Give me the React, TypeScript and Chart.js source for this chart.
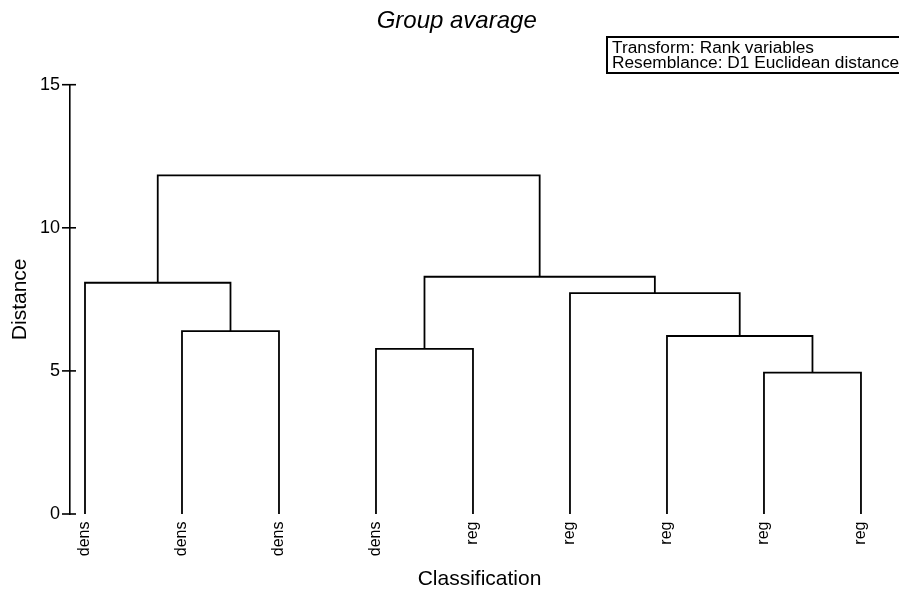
import React, { useEffect, useRef } from 'react';
import { Chart, registerables } from 'chart.js';

Chart.register(...registerables);

// ---- data ----
const leafLabels = ['dens', 'dens', 'dens', 'dens', 'reg', 'reg', 'reg', 'reg', 'reg'];
// merges: node index < 9 is a leaf, >= 9 refers to an earlier merge (9 + k)
const mergeLeft = [1, 0, 3, 7, 6, 5, 11, 10];
const mergeRight = [2, 9, 4, 8, 12, 13, 14, 15];
const mergeHeights = [6.39, 8.08, 5.77, 4.94, 6.22, 7.72, 8.29, 11.83];
const yTicks = [0, 5, 10, 15];
const chartTitle = 'Group avarage';
const noteLines = ['Transform: Rank variables', 'Resemblance: D1 Euclidean distance'];
const xTitle = 'Classification';
const yTitle = 'Distance';

const FONT = "'Liberation Sans', Arial, Helvetica, sans-serif";

function buildDatasets() {
  const n = leafLabels.length;
  const pos: number[] = leafLabels.map((_, i) => i);
  const ht: number[] = leafLabels.map(() => 0);
  const sets: any[] = [];
  mergeHeights.forEach((h, k) => {
    const l = mergeLeft[k];
    const r = mergeRight[k];
    pos[n + k] = (pos[l] + pos[r]) / 2;
    ht[n + k] = h;
    sets.push({
      data: [
        { x: pos[l], y: ht[l] },
        { x: pos[l], y: h },
        { x: pos[r], y: h },
        { x: pos[r], y: ht[r] },
      ],
      showLine: true,
      borderColor: '#000',
      borderWidth: 1.8,
      pointRadius: 0,
      pointHoverRadius: 0,
      tension: 0,
      fill: false,
      borderJoinStyle: 'miter',
      borderCapStyle: 'butt',
    });
  });
  return sets;
}

const decorPlugin = {
  id: 'decor',
  afterDraw(chart: any) {
    const { ctx, chartArea } = chart;
    const xs = chart.scales.x;
    const ys = chart.scales.y;
    ctx.save();
    ctx.strokeStyle = '#000';
    ctx.fillStyle = '#000';
    // y tick marks crossing the axis
    ctx.lineWidth = 1.6;
    yTicks.forEach((v) => {
      const py = ys.getPixelForValue(v);
      ctx.beginPath();
      ctx.moveTo(chartArea.left - 8, py);
      ctx.lineTo(chartArea.left + 6, py);
      ctx.stroke();
    });
    // leaf labels, rotated, reading bottom to top
    ctx.font = `16px ${FONT}`;
    ctx.textAlign = 'right';
    ctx.textBaseline = 'middle';
    const y0 = ys.getPixelForValue(0);
    leafLabels.forEach((lab, i) => {
      const px = xs.getPixelForValue(i);
      ctx.save();
      ctx.translate(px, y0 + 7.5);
      ctx.rotate(-Math.PI / 2);
      ctx.fillText(lab, 0, 0);
      ctx.restore();
    });
    // title
    ctx.font = `italic 24px ${FONT}`;
    ctx.textAlign = 'center';
    ctx.textBaseline = 'alphabetic';
    ctx.fillText(chartTitle, 456.7, 28);
    // note box
    ctx.lineWidth = 2;
    ctx.strokeRect(607, 37, 300, 36);
    ctx.font = `17.3px ${FONT}`;
    ctx.textAlign = 'left';
    ctx.fillText(noteLines[0], 612, 52.5);
    ctx.fillText(noteLines[1], 612, 67.5);
    ctx.restore();
  },
};

export default function App() {
  const ref = useRef<HTMLCanvasElement | null>(null);
  useEffect(() => {
    document.body.style.margin = '0';
    const canvas = ref.current;
    if (!canvas) return;
    const chart = new Chart(canvas, {
      type: 'scatter',
      data: { datasets: buildDatasets() },
      options: {
        animation: false,
        responsive: true,
        maintainAspectRatio: false,
        layout: { padding: { top: 84.7, right: 10, bottom: 0, left: 0 } },
        plugins: {
          legend: { display: false },
          tooltip: { enabled: false },
          title: { display: false },
        },
        scales: {
          x: {
            type: 'linear',
            min: -0.1546,
            max: 8.289,
            ticks: { display: false },
            grid: { display: false },
            border: { display: false },
            title: {
              display: true,
              text: xTitle,
              color: '#000',
              font: { family: FONT, size: 21, lineHeight: 1 },
              padding: { top: 0, bottom: 0 },
            },
            afterFit: (s: any) => {
              s.height = 76;
            },
          },
          y: {
            type: 'linear',
            min: 0,
            max: 15,
            afterBuildTicks: (s: any) => {
              s.ticks = yTicks.map((v) => ({ value: v }));
            },
            ticks: {
              color: '#000',
              font: { family: FONT, size: 18 },
              padding: 2,
            },
            grid: { display: false },
            border: { display: true, color: '#000', width: 1.6 },
            title: {
              display: true,
              text: yTitle,
              color: '#000',
              font: { family: FONT, size: 21, lineHeight: 1 },
              padding: { top: 9.5, bottom: 0 },
            },
            afterFit: (s: any) => {
              s.width = 70;
            },
          },
        },
      },
      plugins: [decorPlugin],
    });
    return () => chart.destroy();
  }, []);
  return (
    <div style={{ width: 899, height: 590, position: 'relative', background: '#fff' }}>
      <canvas ref={ref} />
    </div>
  );
}
